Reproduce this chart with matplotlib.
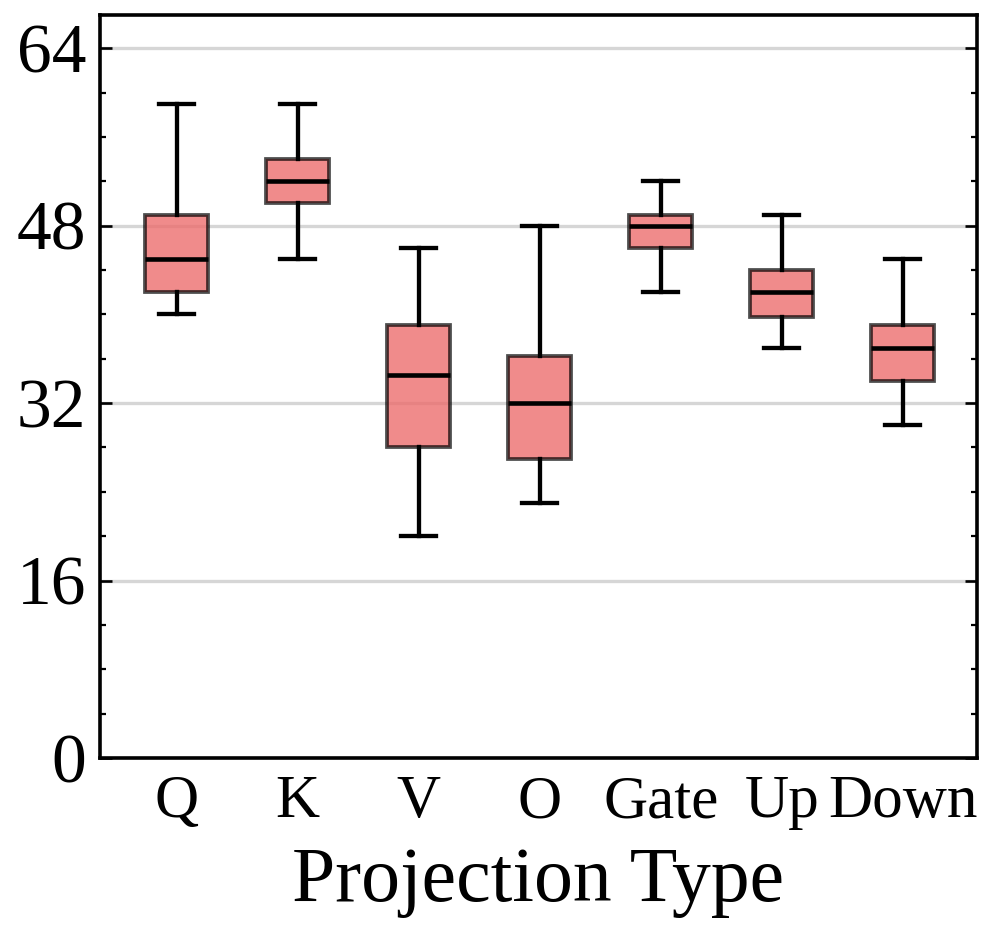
import matplotlib
matplotlib.use("Agg")
import matplotlib.pyplot as plt
from matplotlib.ticker import MultipleLocator

plt.rcParams['font.family'] = ['Liberation Serif', 'DejaVu Serif']
plt.rcParams['mathtext.fontset'] = 'stix'

categories = ["Q", "K", "V", "O", "Gate", "Up", "Down"]
whisker_low = [40, 45, 20, 23, 42, 37, 30]
q1 = [42, 50, 28, 27, 46, 39.75, 34]
medians = [45, 52, 34.5, 32, 48, 42, 37]
q3 = [49, 54, 39, 36.25, 49, 44, 39]
whisker_high = [59, 59, 46, 48, 52, 49, 45]
y_ticks = [0, 16, 32, 48, 64]

stats = []
for name, lo, a, m, b, hi in zip(categories, whisker_low, q1, medians, q3, whisker_high):
    stats.append(dict(label=name, whislo=lo, q1=a, med=m, q3=b, whishi=hi, fliers=[]))

fig = plt.figure(figsize=(9.95, 9.33), dpi=100)
ax = fig.add_axes([0.1005, 0.1876, 0.8815, 0.7964])

positions = list(range(len(categories)))
ax.bxp(stats, positions=positions, widths=0.52, capwidths=0.29, patch_artist=True,
       showfliers=False,
       boxprops=dict(facecolor=(0.925, 0.42, 0.42, 0.78), edgecolor=(0, 0, 0, 0.7), linewidth=2.7),
       medianprops=dict(color='black', linewidth=3.3),
       whiskerprops=dict(color='black', linewidth=3.1),
       capprops=dict(color='black', linewidth=3.1))

ax.set_xlim(-0.634, 6.614)
ax.set_ylim(0, 67)
ax.set_yticks(y_ticks)
ax.yaxis.set_minor_locator(MultipleLocator(4))
ax.set_xticks(positions)
ax.set_xticklabels(categories, fontsize=44)
ax.tick_params(axis='y', which='major', direction='in', length=8.6, width=1.9,
               labelsize=50, left=True, right=True, pad=10)
ax.tick_params(axis='y', which='minor', direction='in', length=4.3, width=1.6,
               left=True, right=True)
ax.tick_params(axis='x', which='both', length=0, pad=12)

ax.grid(axis='y', which='major', color='#d6d6d6', linewidth=2.4)
ax.set_axisbelow(True)
for s in ax.spines.values():
    s.set_linewidth(2.6)

ax.set_xlabel("Projection Type", fontsize=56, labelpad=12)

fig.savefig("out.png", dpi=100)
